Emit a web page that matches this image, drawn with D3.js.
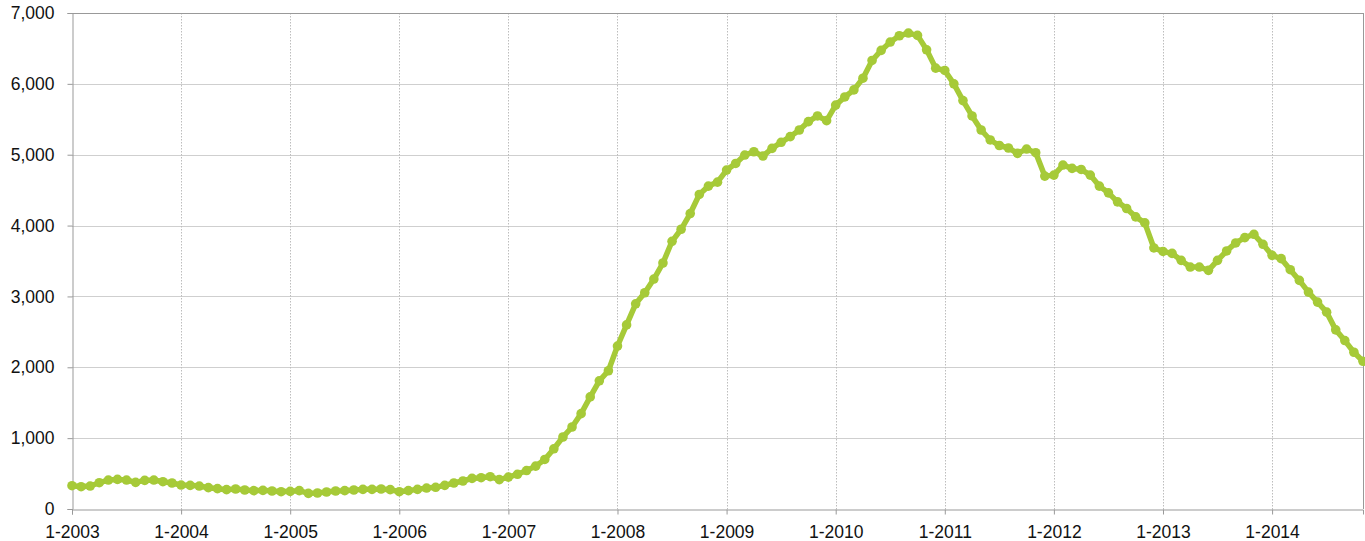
<!DOCTYPE html>
<html>
<head>
<meta charset="utf-8">
<script src="https://cdn.jsdelivr.net/npm/d3@7"></script>
<style>
  html, body { margin: 0; padding: 0; background: #fff; }
  svg { display: block; }
  text { font-family: "Liberation Sans", Arial, Helvetica, sans-serif; }
</style>
</head>
<body>
<svg id="chart" width="1365" height="541"></svg>
<script>
// Monthly values, Jan 2003 .. Nov 2014
const startYear = 2003;
const values2003 = [329, 315, 324, 371, 409, 418, 409, 376, 404, 409, 385, 367];
const values2004 = [338, 334, 324, 301, 287, 273, 282, 268, 259, 263, 254, 244];
const values2005 = [249, 259, 221, 226, 240, 254, 259, 268, 277, 277, 282, 273];
const values2006 = [244, 259, 277, 296, 306, 334, 367, 395, 432, 442, 456, 415];
const values2007 = [450, 490, 543, 605, 699, 850, 1016, 1157, 1346, 1582, 1809, 1951];
const values2008 = [2300, 2598, 2896, 3052, 3245, 3472, 3778, 3948, 4170, 4439, 4557, 4613];
const values2009 = [4783, 4877, 4995, 5042, 4981, 5090, 5175, 5255, 5349, 5467, 5547, 5481];
const values2010 = [5700, 5815, 5915, 6080, 6330, 6472, 6590, 6679, 6717, 6684, 6481, 6222];
const values2011 = [6189, 6000, 5764, 5547, 5349, 5208, 5130, 5095, 5019, 5080, 5028, 4698];
const values2012 = [4712, 4854, 4807, 4792, 4712, 4557, 4462, 4335, 4241, 4123, 4038, 3684];
const values2013 = [3635, 3608, 3509, 3415, 3415, 3368, 3509, 3642, 3755, 3830, 3877, 3736];
const values2014 = [3580, 3533, 3377, 3226, 3061, 2920, 2778, 2528, 2377, 2212, 2085];

const xTickLabels = ["1-2003","1-2004","1-2005","1-2006","1-2007","1-2008","1-2009","1-2010","1-2011","1-2012","1-2013","1-2014"];
const yTickValues = [0, 1000, 2000, 3000, 4000, 5000, 6000, 7000];

const series = [].concat(values2003, values2004, values2005, values2006, values2007,
  values2008, values2009, values2010, values2011, values2012, values2013, values2014);
const data = series.map((v, i) => ({ i, v }));

const margin = { left: 72, right: 2, top: 13, bottom: 32 };
const W = 1365, H = 541;
const svg = d3.select("#chart");

const x = d3.scaleLinear().domain([0, series.length - 1]).range([margin.left, W - margin.right]);
const y = d3.scaleLinear().domain([0, 7000]).range([H - margin.bottom, margin.top]);

const lineColor = "#a6ca38";
const axisColor = "#999";
const fontSize = 17.5;

// horizontal gridlines
svg.append("g").selectAll("line").data(yTickValues.filter(d => d > 0 && d < 7000)).join("line")
  .attr("x1", margin.left).attr("x2", W - margin.right)
  .attr("y1", d => Math.round(y(d)) + 0.5).attr("y2", d => Math.round(y(d)) + 0.5)
  .attr("stroke", "#cfcfcf").attr("stroke-width", 1);

// vertical dotted gridlines
const xTickIdx = xTickLabels.map((_, k) => k * 12);
svg.append("g").selectAll("line").data(xTickIdx.slice(1)).join("line")
  .attr("x1", d => Math.round(x(d)) + 0.5).attr("x2", d => Math.round(x(d)) + 0.5)
  .attr("y1", margin.top).attr("y2", H - margin.bottom)
  .attr("stroke", "#bdbdbd").attr("stroke-width", 1).attr("stroke-dasharray", "1.5,1.5");

// frame (top and right)
svg.append("line").attr("x1", margin.left).attr("x2", W - margin.right)
  .attr("y1", Math.round(y(7000)) + 0.5).attr("y2", Math.round(y(7000)) + 0.5)
  .attr("stroke", axisColor);
svg.append("line").attr("x1", W - margin.right + 0.5).attr("x2", W - margin.right + 0.5)
  .attr("y1", margin.top).attr("y2", H - margin.bottom)
  .attr("stroke", axisColor);

// y axis
const yAxis = d3.axisLeft(y).tickValues(yTickValues).tickSize(5).tickPadding(13)
  .tickFormat(d3.format(","));
const gy = svg.append("g").attr("transform", `translate(${margin.left + 0.5},0)`).call(yAxis);
gy.select(".domain").attr("stroke", axisColor);
gy.selectAll(".tick line").attr("stroke", axisColor);
gy.selectAll(".tick text").attr("font-size", fontSize).attr("fill", "#111")
  .attr("font-family", "'Liberation Sans', Arial, sans-serif");

// x axis
const xAxis = d3.axisBottom(x).tickValues(xTickIdx).tickSize(5).tickPadding(11)
  .tickFormat((d, k) => xTickLabels[k]);
const gx = svg.append("g").attr("transform", `translate(0,${Math.round(y(0)) + 0.5})`).call(xAxis);
gx.select(".domain").attr("stroke", axisColor);
gx.selectAll(".tick line").attr("stroke", axisColor);
gx.selectAll(".tick text").attr("font-size", fontSize).attr("fill", "#111")
  .attr("font-family", "'Liberation Sans', Arial, sans-serif");

// line
const line = d3.line().x(d => x(d.i)).y(d => y(d.v));
svg.append("path").datum(data)
  .attr("d", line).attr("fill", "none")
  .attr("stroke", lineColor).attr("stroke-width", 5.5)
  .attr("stroke-linejoin", "round").attr("stroke-linecap", "round");

// markers
svg.append("g").selectAll("circle").data(data).join("circle")
  .attr("cx", d => x(d.i)).attr("cy", d => y(d.v)).attr("r", 4.8)
  .attr("fill", lineColor);
</script>
</body>
</html>
